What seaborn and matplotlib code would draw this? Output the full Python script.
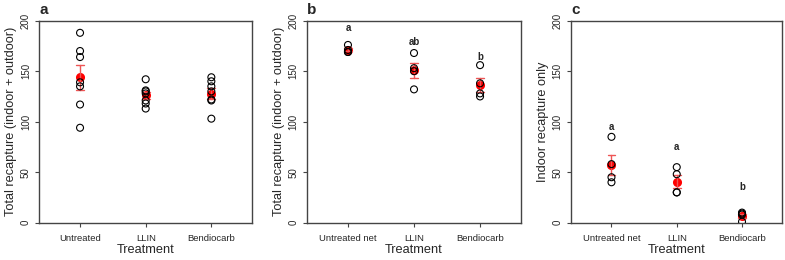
import pandas as pd
import matplotlib
matplotlib.use("Agg")
import matplotlib.pyplot as plt
import seaborn as sns

# treatments
cats_a = ["Untreated", "LLIN", "Bendiocarb"]
cats_bc = ["Untreated net", "LLIN", "Bendiocarb"]

# panel a: total recapture per replicate
a_untreated = [188, 170, 164, 139, 135, 117, 94]
a_llin = [142, 131, 130, 128, 121, 118, 113]
a_bendio = [144, 140, 135, 130, 122, 121, 103]

# panel b: total recapture per replicate
b_untreated = [176, 171, 169, 169]
b_llin = [168, 153, 150, 132]
b_bendio = [156, 138, 128, 125]

# panel c: indoor recapture only
c_untreated = [85, 58, 45, 40]
c_llin = [55, 48, 30, 30]
c_bendio = [10, 9, 8, 1]

# significance letters and their heights
b_letters = ["a", "ab", "b"]
b_letter_y = [193, 178.5, 164]
c_letters = ["a", "a", "b"]
c_letter_y = [94.5, 75, 35]


def long_df(cats, groups):
    rows = []
    for c, vals in zip(cats, groups):
        for v in vals:
            rows.append({"treatment": c, "value": v})
    return pd.DataFrame(rows)


df_a = long_df(cats_a, [a_untreated, a_llin, a_bendio])
df_b = long_df(cats_bc, [b_untreated, b_llin, b_bendio])
df_c = long_df(cats_bc, [c_untreated, c_llin, c_bendio])

sns.set_style("ticks")
plt.rcParams["font.family"] = ["Liberation Sans", "DejaVu Sans"]

fig = plt.figure(figsize=(7.85, 2.6), dpi=100)
ax_a = fig.add_axes([0.0501, 0.1435, 0.2710, 0.7769])
ax_b = fig.add_axes([0.3911, 0.1435, 0.2726, 0.7769])
ax_c = fig.add_axes([0.7274, 0.1435, 0.2694, 0.7769])

panels = [
    (ax_a, df_a, cats_a, "a", "Total recapture (indoor + outdoor)", None, None),
    (ax_b, df_b, cats_bc, "b", "Total recapture (indoor + outdoor)", b_letters, b_letter_y),
    (ax_c, df_c, cats_bc, "c", "Indoor recapture only", c_letters, c_letter_y),
]

edge = "#444444"

for ax, df, cats, tag, ylab, letters, letter_y in panels:
    sns.stripplot(data=df, x="treatment", y="value", order=cats, jitter=False,
                  size=5, color="white", edgecolor="black", linewidth=0.8, ax=ax)
    for coll in ax.collections:
        coll.set_facecolor("none")
        coll.set_edgecolor("black")
    sns.pointplot(data=df, x="treatment", y="value", order=cats, errorbar="se",
                  color="red", linestyle="none", markers="o", markersize=4.5,
                  capsize=0.12, err_kws={"color": "#ee5555", "linewidth": 1.0}, ax=ax)

    ax.set_xlim(-0.62, 2.62)
    ax.set_ylim(0, 200)
    ax.set_yticks([0, 50, 100, 150, 200])
    for s in ax.spines.values():
        s.set_visible(True)
        s.set_color(edge)
        s.set_linewidth(1.0)
    ax.tick_params(axis="both", direction="out", length=3, width=0.8, color=edge)
    ax.tick_params(axis="x", labelsize=6.8, pad=5)
    ax.tick_params(axis="y", labelsize=7, pad=3, labelrotation=90)
    for lab in ax.get_yticklabels():
        lab.set_va("center")
    ax.set_xlabel("Treatment", fontsize=9.2, labelpad=1)
    ax.set_ylabel(ylab, fontsize=9.2, labelpad=3)
    ax.text(0.0, 1.033, tag, transform=ax.transAxes, fontsize=11,
            fontweight="bold", ha="left", va="baseline")

    if letters is not None:
        for i, (lt, ly) in enumerate(zip(letters, letter_y)):
            ax.text(i, ly, lt, fontsize=7, fontweight="bold", ha="center", va="center")

fig.savefig("out.png", dpi=100)
